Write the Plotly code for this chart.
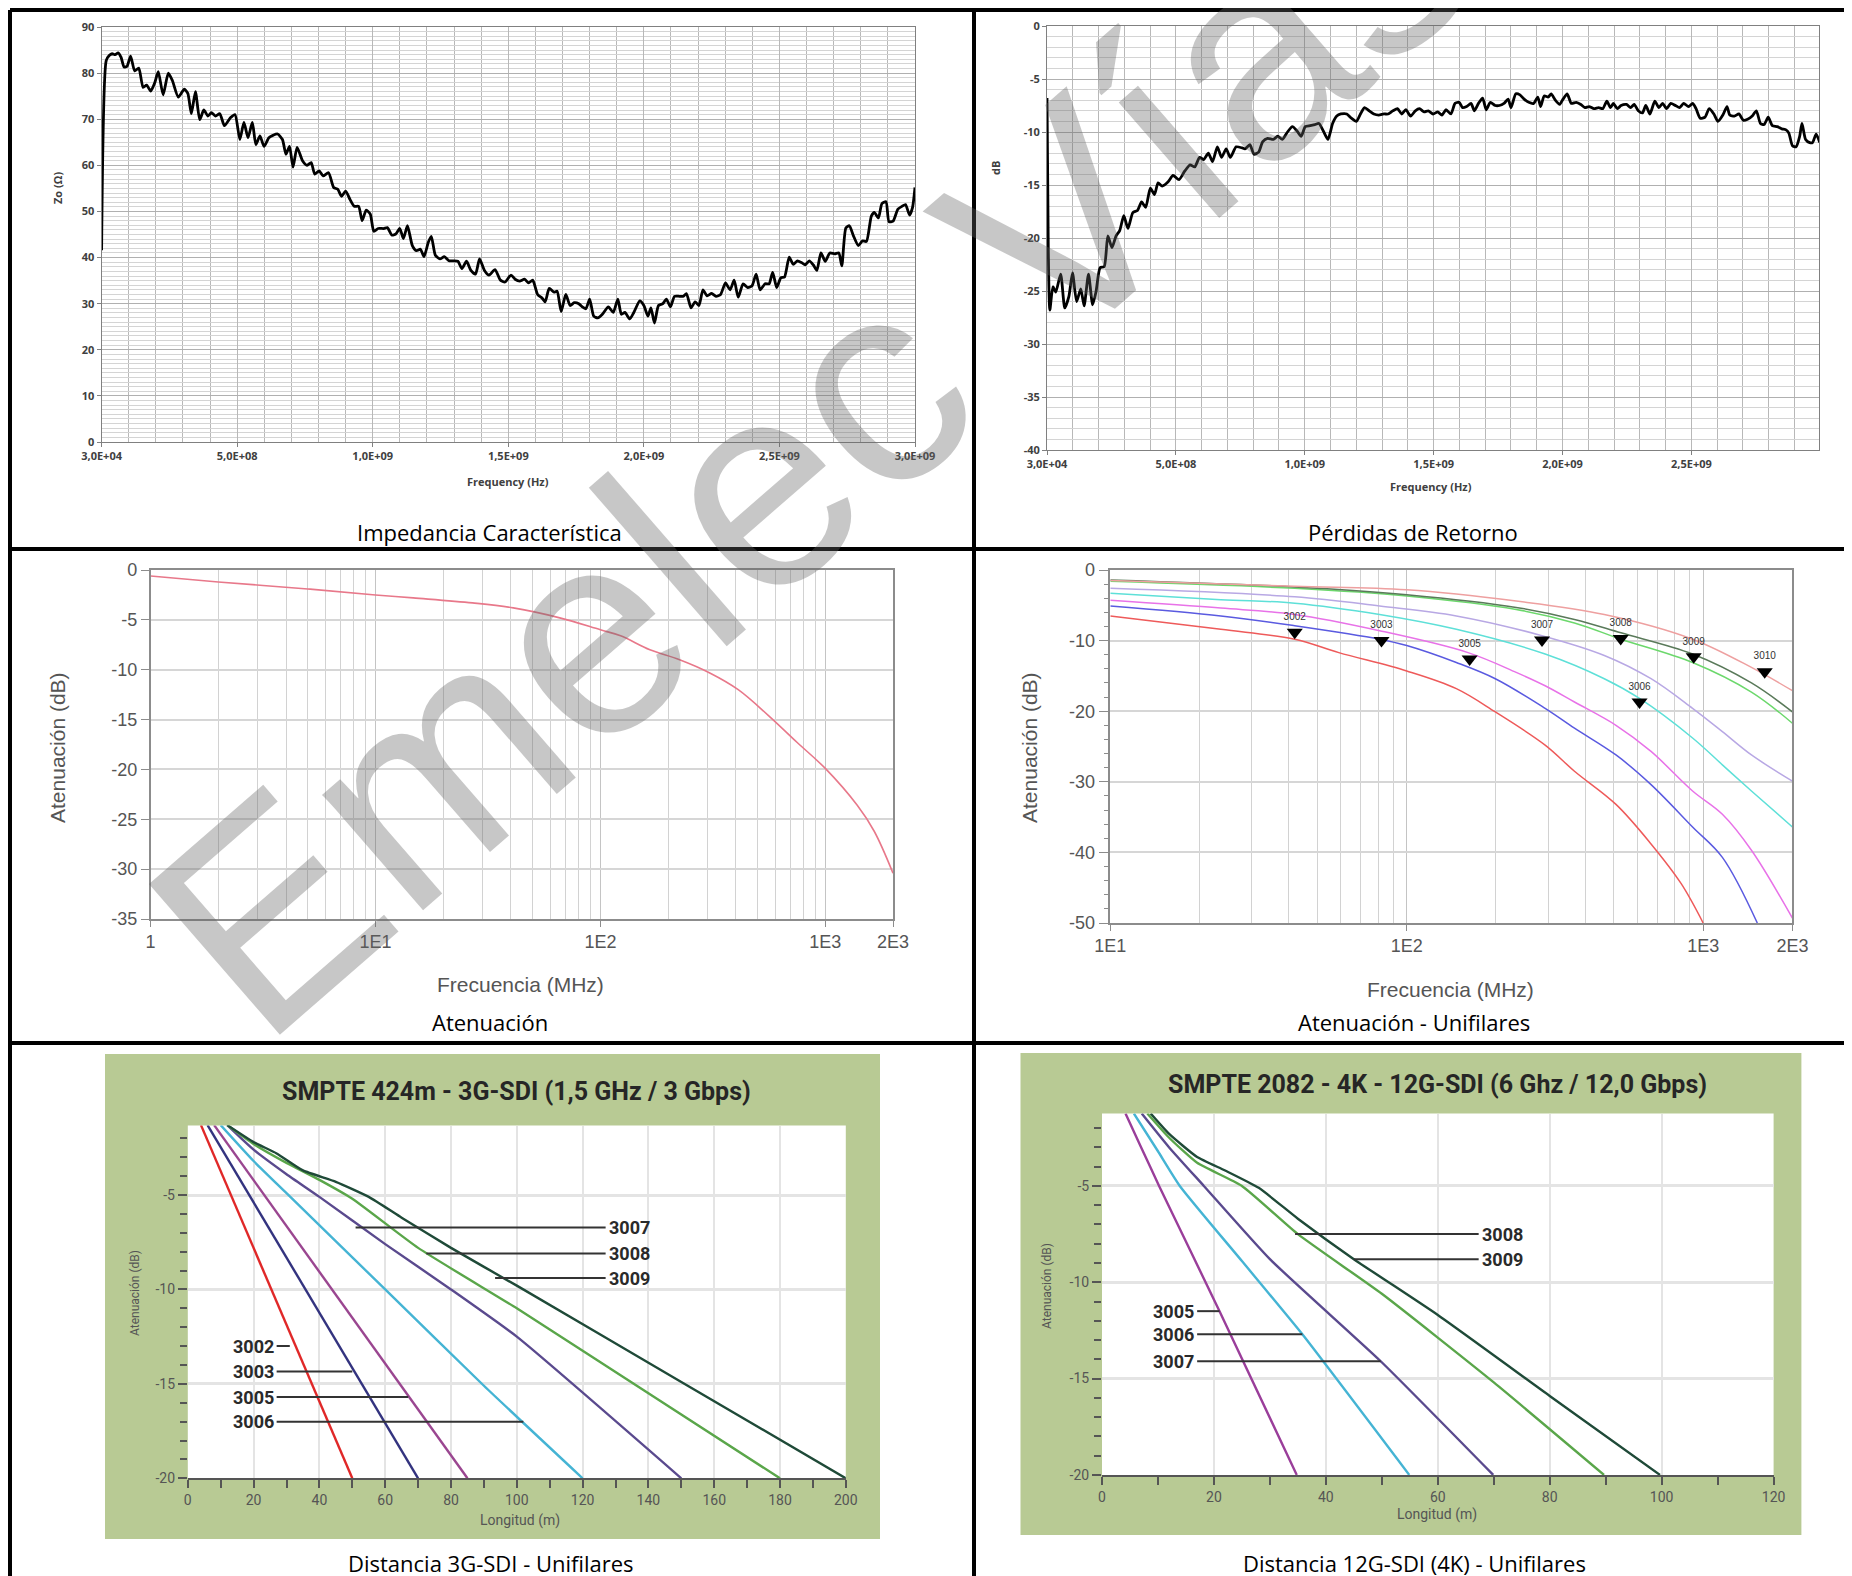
import plotly.graph_objects as go

W, H = 1852, 1576
OFF = 8  # page body margin of the viewer
def X(px): return (px - OFF) / W
def Y(py): return 1 - (py - OFF) / H

# ---------------- data ----------------
# Impedancia característica (frequency in MHz, Zo in ohm)
imp_freq_mhz = [0.03, 17, 28, 39, 50, 61, 72, 83, 94, 107, 122, 137, 153, 166, 181, 196, 209, 227, 246, 261,
                283, 305, 318, 331, 346, 362, 377, 392, 405, 420, 436, 453, 475, 492, 510, 525, 540, 556, 569, 584,
                599, 617, 632, 649, 667, 680, 693, 706, 721, 741, 758, 773, 786, 802, 817, 837, 856, 871, 885, 900,
                917, 932, 948, 961, 976, 991, 1004, 1020, 1041, 1054, 1070, 1085, 1100, 1113, 1128, 1146, 1161, 1176, 1189, 1205,
                1216, 1231, 1248, 1264, 1281, 1298, 1314, 1329, 1346, 1362, 1379, 1394, 1412, 1429, 1451, 1471, 1488, 1510, 1525, 1542,
                1560, 1575, 1590, 1608, 1625, 1636, 1651, 1669, 1680, 1695, 1712, 1728, 1743, 1760, 1771, 1786, 1800, 1815, 1830, 1847,
                1869, 1887, 1904, 1917, 1930, 1948, 1963, 1985, 2000, 2015, 2026, 2039, 2054, 2070, 2083, 2098, 2113, 2131, 2146, 2157,
                2174, 2189, 2203, 2218, 2233, 2250, 2266, 2283, 2301, 2318, 2333, 2348, 2366, 2383, 2399, 2414, 2429, 2447, 2462, 2475,
                2490, 2505, 2519, 2536, 2551, 2566, 2582, 2595, 2610, 2625, 2638, 2653, 2669, 2686, 2704, 2719, 2730, 2745, 2758, 2773,
                2791, 2806, 2821, 2839, 2850, 2865, 2878, 2893, 2904, 2919, 2937, 2952, 2965, 2980, 2991, 3000]
imp_zo = [41.6, 82.7, 83.8, 84.2, 84.0, 84.4, 83.4, 81.3, 81.5, 83.7, 80.5, 81.1, 76.9, 77.4, 76.1, 77.9, 80.3, 75.3, 80.0, 78.4,
          74.8, 76.5, 75.6, 71.2, 76.0, 69.9, 72.0, 70.7, 71.4, 70.7, 71.2, 68.6, 70.3, 71.0, 65.6, 69.3, 66.0, 69.3, 64.5, 66.4,
          64.1, 66.0, 66.5, 66.8, 65.6, 62.4, 64.1, 59.6, 63.9, 61.0, 60.0, 60.6, 58.1, 58.8, 57.7, 58.4, 55.2, 54.8, 53.3, 54.4,
          52.5, 51.1, 51.1, 48.0, 50.3, 49.4, 45.7, 46.3, 46.3, 46.5, 44.9, 45.1, 46.3, 44.1, 46.9, 42.6, 41.5, 41.8, 40.2, 43.3,
          44.6, 40.5, 39.7, 40.2, 39.3, 39.3, 39.2, 37.6, 39.2, 37.2, 36.4, 39.7, 37.2, 36.2, 37.4, 35.1, 34.7, 36.2, 35.3, 34.9,
          35.3, 34.5, 35.1, 32.0, 31.2, 30.4, 33.3, 32.5, 32.7, 28.3, 32.0, 29.6, 30.2, 30.0, 29.4, 28.9, 31.0, 27.3, 26.9, 27.7,
          29.3, 28.1, 31.0, 27.7, 28.1, 26.7, 28.1, 30.6, 29.6, 27.3, 29.1, 25.8, 29.6, 30.0, 31.0, 29.3, 31.6, 31.6, 31.6, 32.2,
          29.1, 30.4, 29.6, 33.0, 31.7, 32.2, 31.6, 32.0, 34.5, 33.0, 35.1, 31.4, 34.3, 33.5, 33.9, 36.4, 33.0, 34.3, 34.3, 36.8,
          33.5, 35.6, 35.8, 40.1, 38.5, 39.3, 38.9, 38.4, 39.3, 38.4, 37.2, 41.0, 39.2, 41.0, 40.8, 41.0, 38.2, 46.4, 46.9, 44.7,
          42.6, 43.6, 43.5, 49.0, 49.8, 48.6, 51.7, 52.1, 47.8, 47.9, 50.5, 51.1, 51.5, 49.2, 50.9, 55.2]

# Pérdidas de retorno (frequency in MHz, dB)
rl_freq_mhz = [0.03, 5, 11, 23, 34, 53, 69, 85, 99, 115, 131, 144, 161, 177, 190, 206, 222, 236, 252, 268,
               282, 298, 314, 333, 351, 367, 383, 401, 417, 431, 447, 470, 489, 512, 534, 555, 573, 592, 608, 626,
               642, 661, 677, 695, 711, 734, 757, 768, 787, 803, 821, 837, 856, 878, 895, 913, 933, 952, 970, 986,
               1002, 1021, 1039, 1055, 1072, 1090, 1108, 1124, 1140, 1163, 1181, 1200, 1216, 1232, 1250, 1268, 1287, 1307, 1323, 1342,
               1360, 1376, 1392, 1411, 1429, 1445, 1463, 1479, 1498, 1516, 1532, 1548, 1567, 1583, 1599, 1612, 1628, 1645, 1658, 1674,
               1690, 1704, 1720, 1739, 1755, 1773, 1789, 1800, 1819, 1835, 1851, 1869, 1888, 1904, 1915, 1929, 1945, 1956, 1972, 1989,
               2002, 2018, 2034, 2053, 2071, 2087, 2103, 2122, 2140, 2156, 2172, 2186, 2197, 2213, 2227, 2248, 2264, 2278, 2294, 2310,
               2323, 2339, 2358, 2374, 2388, 2404, 2420, 2438, 2454, 2470, 2489, 2505, 2518, 2534, 2553, 2569, 2587, 2603, 2622, 2638,
               2649, 2667, 2684, 2702, 2718, 2736, 2752, 2768, 2782, 2798, 2814, 2833, 2851, 2867, 2878, 2892, 2906, 2920, 2929, 2943,
               2959, 2970, 2984, 2998]
rl_db = [-6.8, -21.1, -26.8, -24.6, -25.1, -23.4, -26.6, -25.5, -23.3, -26.0, -24.8, -26.4, -23.4, -26.3, -25.1, -22.8, -22.7, -19.8, -20.9, -19.8,
         -19.3, -17.9, -19.1, -17.6, -17.4, -16.6, -17.1, -15.3, -15.9, -14.8, -15.1, -14.7, -14.1, -14.5, -13.7, -13.1, -13.3, -12.4, -12.6, -12.0,
         -12.8, -11.4, -12.4, -11.6, -12.4, -11.4, -11.5, -11.6, -11.2, -12.1, -11.9, -10.9, -10.6, -10.7, -10.4, -10.7, -10.0, -9.5, -9.9, -10.4,
         -9.5, -9.4, -9.3, -9.2, -9.9, -10.7, -9.2, -8.5, -8.3, -8.3, -8.7, -9.0, -8.3, -7.7, -8.0, -8.3, -8.4, -8.3, -8.3, -8.0,
         -7.8, -8.3, -7.9, -8.5, -8.0, -7.8, -8.1, -8.0, -8.3, -8.1, -8.4, -7.9, -8.3, -7.3, -7.2, -7.7, -7.6, -7.3, -8.0, -7.3,
         -6.8, -7.9, -7.2, -7.5, -7.5, -7.3, -6.9, -7.7, -6.4, -6.5, -6.9, -7.2, -7.3, -6.7, -7.6, -6.6, -6.7, -6.4, -7.0, -7.4,
         -6.9, -6.4, -7.3, -7.2, -7.4, -7.7, -7.6, -7.8, -7.7, -7.8, -7.1, -7.7, -7.3, -7.8, -7.5, -7.4, -7.7, -7.4, -8.0, -8.2,
         -7.5, -8.3, -7.1, -7.7, -7.3, -7.8, -7.3, -7.5, -7.7, -7.3, -7.6, -7.3, -7.8, -8.7, -8.6, -7.8, -8.3, -9.0, -8.4, -7.6,
         -8.4, -8.5, -8.3, -8.9, -8.8, -8.5, -8.0, -9.2, -9.3, -8.6, -9.4, -9.5, -9.7, -9.8, -10.1, -11.3, -11.4, -10.4, -9.2, -10.7,
         -11.0, -11.0, -10.2, -11.0]

# Atenuación (MHz, dB)
att_freq = [1, 2, 5, 10, 14.7, 27, 41, 66, 100, 123, 166, 225, 305, 410, 559, 750, 1000, 1387, 1650, 2000]
att_db = [-0.6, -1.2, -1.9, -2.5, -2.8, -3.3, -3.8, -4.8, -6.0, -6.6, -8.0, -9.0, -10.3, -12.0, -14.6, -17.3, -19.9, -23.6, -26.2, -30.4]

# Atenuación - Unifilares (MHz, dB)
u3002_f = [10, 23.6, 41.9, 59, 100, 147, 199, 293, 368, 508, 667, 842, 1000]
u3002_db = [-6.5, -8.4, -9.8, -11.7, -14.3, -16.8, -20.1, -24.8, -28.5, -33.2, -38.8, -44.4, -50]
u3003_f = [10, 23.6, 41.9, 81, 100, 147, 199, 293, 368, 508, 667, 921, 1161, 1523]
u3003_db = [-5.1, -6.5, -7.9, -9.8, -10.7, -13.1, -15.4, -19.6, -22.4, -26.2, -30.4, -36.4, -40.7, -50]
u3005_f = [10, 23.6, 41.9, 81, 161, 234, 293, 368, 508, 667, 921, 1161, 1455, 2000]
u3005_db = [-4.3, -5.4, -6.3, -8.6, -11.7, -14.5, -16.4, -18.7, -22.0, -25.7, -31.3, -34.6, -39.7, -49.3]
u3006_f = [10, 23.6, 41.9, 81, 147, 293, 464, 610, 921, 1161, 1455, 2000]
u3006_db = [-3.3, -4.2, -4.7, -6.3, -8.4, -11.9, -15.4, -18.2, -23.8, -27.6, -31.3, -36.4]
u3007_f = [10, 41.9, 81, 147, 286, 464, 667, 921, 1161, 1455, 2000]
u3007_db = [-2.6, -3.8, -5.1, -6.5, -9.3, -12.1, -15.4, -19.6, -22.9, -26.2, -29.9]
u3008_f = [10, 41.9, 100, 234, 368, 528, 921, 1455, 2000]
u3008_db = [-1.6, -2.6, -3.7, -5.6, -7.5, -9.8, -13.1, -17.3, -21.7]
u3009_f = [10, 41.9, 100, 234, 368, 528, 921, 1455, 2000]
u3009_db = [-1.4, -2.4, -3.5, -5.3, -7.0, -8.9, -11.9, -16.0, -20.1]
u3010_f = [10, 41.9, 100, 234, 464, 921, 1455, 2000]
u3010_db = [-1.5, -2.3, -2.8, -4.4, -6.3, -9.8, -13.8, -17.1]

uni_marker_names = ['3002', '3003', '3005', '3007', '3008', '3009', '3010', '3006']
uni_marker_f = [41.9, 82.2, 163, 286, 527, 929, 1613, 610]
uni_marker_db = [-8.8, -10.0, -12.6, -9.9, -9.7, -12.3, -14.4, -18.7]

# 3G-SDI (m, dB)
g3_3002_m = [4, 50]
g3_3002_db = [-1.3, -20]
g3_3003_m = [6, 70]
g3_3003_db = [-1.3, -20]
g3_3005_m = [8, 85]
g3_3005_db = [-1.3, -20]
g3_3006_m = [10, 20, 30, 60, 90, 120]
g3_3006_db = [-1.3, -3.2, -4.9, -10.0, -15.1, -20]
g3_3007_m = [12, 20, 30, 40, 60, 80, 100, 150]
g3_3007_db = [-1.3, -2.6, -3.9, -5.1, -7.6, -10.0, -12.5, -20]
g3_3008_m = [12, 20, 30, 40, 50, 70, 100, 140, 180]
g3_3008_db = [-1.3, -2.3, -3.3, -4.2, -5.2, -7.8, -11.0, -15.5, -20]
g3_3009_m = [12, 20, 27, 35, 45, 55, 65, 80, 100, 150, 200]
g3_3009_db = [-1.3, -2.2, -2.8, -3.7, -4.3, -5.1, -6.2, -7.8, -9.8, -14.9, -20]

# 12G-SDI (m, dB)
g12_3005_m = [4.2, 7, 10.2, 21, 34.8]
g12_3005_db = [-1.24, -3.0, -5.0, -11.5, -20]
g12_3006_m = [5.7, 10, 13.9, 25, 35.8, 54.9]
g12_3006_db = [-1.24, -3.2, -5.0, -8.9, -12.7, -20]
g12_3007_m = [7.1, 12, 18.2, 30, 49.8, 69.9]
g12_3007_db = [-1.24, -3.0, -5.0, -8.8, -14.1, -20]
g12_3008_m = [8.1, 12, 17, 25, 35, 50, 70, 89.7]
g12_3008_db = [-1.24, -2.5, -3.8, -5.0, -7.5, -10.6, -15.2, -20]
g12_3009_m = [8.7, 12, 17, 22, 28, 35, 45, 60, 80, 99.7]
g12_3009_db = [-1.24, -2.3, -3.5, -4.2, -5.1, -6.7, -8.8, -11.7, -15.9, -20]

# labels with leader lines: name, y(dB), leader start x, leader end x
g3_labels_right = [('3007', -6.72, 51, 127), ('3008', -8.1, 72.5, 127), ('3009', -9.4, 93.4, 127)]
g3_labels_left = [('3002', -13.0, 31, 27), ('3003', -14.35, 50, 27), ('3005', -15.7, 67, 27), ('3006', -17.0, 102, 27)]
g12_labels_right = [('3008', -7.5, 34.5, 67.3), ('3009', -8.8, 45, 67.3)]
g12_labels_left = [('3005', -11.5, 21, 17), ('3006', -12.7, 35.8, 17), ('3007', -14.1, 49.8, 17)]

captions = ['Impedancia Característica', 'Pérdidas de Retorno', 'Atenuación',
            'Atenuación - Unifilares', 'Distancia 3G-SDI - Unifilares', 'Distancia 12G-SDI (4K) - Unifilares']

fig = go.Figure()

# ---------- row 1 traces ----------
fig.add_trace(go.Scatter(x=[f * 1e6 for f in imp_freq_mhz], y=imp_zo, mode='lines',
                         line=dict(color='black', width=2.8, shape='spline', smoothing=0.6),
                         xaxis='x', yaxis='y', showlegend=False))
fig.add_trace(go.Scatter(x=[f * 1e6 for f in rl_freq_mhz], y=rl_db, mode='lines',
                         line=dict(color='black', width=2.8, shape='spline', smoothing=0.6),
                         xaxis='x2', yaxis='y2', showlegend=False))
# ---------- row 2 ----------
fig.add_trace(go.Scatter(x=att_freq, y=att_db, mode='lines',
                         line=dict(color='#e8788a', width=1.6, shape='spline'),
                         xaxis='x3', yaxis='y3', showlegend=False))
uni = [(u3002_f, u3002_db, '#ee5a5a'), (u3003_f, u3003_db, '#5a5ae0'), (u3005_f, u3005_db, '#e872e8'),
       (u3006_f, u3006_db, '#5ee0d8'), (u3007_f, u3007_db, '#b8a8e4'), (u3008_f, u3008_db, '#6cd86c'),
       (u3009_f, u3009_db, '#5a7a5a'), (u3010_f, u3010_db, '#eea0a0')]
for fx, fy, c in uni:
    fig.add_trace(go.Scatter(x=fx, y=fy, mode='lines', line=dict(color=c, width=1.5, shape='spline'),
                             xaxis='x4', yaxis='y4', showlegend=False))
fig.add_trace(go.Scatter(x=uni_marker_f, y=uni_marker_db, mode='markers+text', text=uni_marker_names,
                         textposition='top center', textfont=dict(family='Liberation Sans', size=10, color='#333'),
                         marker=dict(symbol='triangle-down', size=14, color='black'),
                         xaxis='x4', yaxis='y4', showlegend=False))
# ---------- row 3 ----------
g3 = [(g3_3002_m, g3_3002_db, '#e02828'), (g3_3003_m, g3_3003_db, '#33337f'), (g3_3005_m, g3_3005_db, '#9a4690'),
      (g3_3006_m, g3_3006_db, '#45b4d4'), (g3_3007_m, g3_3007_db, '#5a4a8e'), (g3_3008_m, g3_3008_db, '#5aa64a'),
      (g3_3009_m, g3_3009_db, '#1f4a38')]
for fx, fy, c in g3:
    fig.add_trace(go.Scatter(x=fx, y=fy, mode='lines', line=dict(color=c, width=2.4, shape='spline', smoothing=0.5),
                             xaxis='x5', yaxis='y5', showlegend=False))
g12 = [(g12_3005_m, g12_3005_db, '#9a3e9a'), (g12_3006_m, g12_3006_db, '#45b4d4'), (g12_3007_m, g12_3007_db, '#5a4a8e'),
       (g12_3008_m, g12_3008_db, '#5aa64a'), (g12_3009_m, g12_3009_db, '#1f4a38')]
for fx, fy, c in g12:
    fig.add_trace(go.Scatter(x=fx, y=fy, mode='lines', line=dict(color=c, width=2.4, shape='spline', smoothing=0.5),
                             xaxis='x6', yaxis='y6', showlegend=False))

# ---------- axes ----------
excel_font = dict(family='Open Sans', size=11, color='#404040', weight='bold')
def excel_x(l, r, rng, tv, tt, anchor):
    return dict(domain=[X(l), X(r)], range=rng, tickmode='array', tickvals=tv, ticktext=tt,
                showgrid=True, gridcolor='#b8b8b8', gridwidth=1,
                minor=dict(dtick=1e8, tick0=0, showgrid=True, gridcolor='#b8b8b8', gridwidth=1),
                showline=True, linecolor='#808080', linewidth=1, mirror=True, ticks='outside', ticklen=4,
                tickcolor='#808080', tickfont=excel_font, zeroline=False, anchor=anchor, automargin=False)
def excel_y(t, b, rng, tv, tt, anchor):
    return dict(domain=[Y(b), Y(t)], range=rng, tickmode='array', tickvals=tv, ticktext=tt,
                showgrid=True, gridcolor='#b0b0b0', gridwidth=1,
                minor=dict(dtick=1, tick0=0, showgrid=True, gridcolor='#d4d4d4', gridwidth=1),
                showline=True, linecolor='#808080', linewidth=1, mirror=True, ticks='outside', ticklen=4,
                tickcolor='#808080', tickfont=excel_font, zeroline=False, anchor=anchor, automargin=False)

imp_tv = [3e4, 5e8, 1e9, 1.5e9, 2e9, 2.5e9, 3e9]
imp_tt = ['3,0E+04', '5,0E+08', '1,0E+09', '1,5E+09', '2,0E+09', '2,5E+09', '3,0E+09']
rl_tv = imp_tv[:-1]
rl_tt = imp_tt[:-1]
att_yticks = list(range(-35, 1, 5))
uni_yticks = list(range(-50, 1, 10))
sdi_yticks = [-20, -15, -10, -5]

gray_font = dict(family='Liberation Sans', size=18, color='#555555')
def decades(lo, hi):
    v = []
    d = lo
    while d < hi:
        for k in range(1, 10):
            if d * k <= hi:
                v.append(d * k)
        d *= 10
    return v

fig.update_layout(
    xaxis=excel_x(101.6, 915, [0, 3e9], imp_tv, imp_tt, 'y'),
    yaxis=excel_y(27, 442, [0, 90], list(range(0, 91, 10)), [str(v) for v in range(0, 91, 10)], 'x'),
    xaxis2=excel_x(1047, 1819, [0, 2.995e9], rl_tv, rl_tt, 'y2'),
    yaxis2=excel_y(26, 450, [-40, 0], list(range(-40, 1, 5)), [str(v) for v in range(-40, 1, 5)], 'x2'),
    xaxis3=dict(domain=[X(150.6), X(893)], type='log', range=[0, 3.30103], tickmode='array',
                tickvals=[1, 10, 100, 1000, 2000], ticktext=['1', '1E1', '1E2', '1E3', '2E3'],
                showgrid=True, gridcolor='#c4c4c4', gridwidth=1,
                minor=dict(tickmode='array', tickvals=decades(1, 2000), showgrid=True, gridcolor='#d2d2d2', gridwidth=1),
                showline=True, linecolor='#8c8c8c', linewidth=1.5, mirror=True, ticks='outside', ticklen=6,
                tickcolor='#8c8c8c', tickfont=gray_font, zeroline=False, anchor='y3', automargin=False),
    yaxis3=dict(domain=[Y(919), Y(570)], range=[-35, 0], tickmode='array', tickvals=att_yticks,
                ticktext=[str(v) for v in att_yticks],
                showgrid=True, gridcolor='#d6d6d6', gridwidth=2, showline=True, linecolor='#8c8c8c', linewidth=1.5,
                mirror=True, ticks='outside', ticklen=8, tickcolor='#8c8c8c', tickfont=gray_font,
                zeroline=False, anchor='x3', automargin=False),
    xaxis4=dict(domain=[X(1110.3), X(1792.4)], type='log', range=[1, 3.30103], tickmode='array',
                tickvals=[10, 100, 1000, 2000], ticktext=['1E1', '1E2', '1E3', '2E3'],
                showgrid=True, gridcolor='#c4c4c4', gridwidth=1,
                minor=dict(tickmode='array', tickvals=decades(10, 2000), showgrid=True, gridcolor='#d2d2d2', gridwidth=1),
                showline=True, linecolor='#8c8c8c', linewidth=1.5, mirror=True, ticks='outside', ticklen=6,
                tickcolor='#8c8c8c', tickfont=gray_font, zeroline=False, anchor='y4', automargin=False),
    yaxis4=dict(domain=[Y(923), Y(570)], range=[-50, 0], tickmode='array', tickvals=uni_yticks,
                ticktext=[str(v) for v in uni_yticks],
                showgrid=True, gridcolor='#d6d6d6', gridwidth=2, showline=True, linecolor='#8c8c8c', linewidth=1.5,
                mirror=True, ticks='outside', ticklen=10, tickcolor='#8c8c8c', tickfont=gray_font,
                minor=dict(dtick=2, ticks='outside', ticklen=5, tickcolor='#8c8c8c', showgrid=False),
                zeroline=False, anchor='x4', automargin=False),
    xaxis5=dict(domain=[X(187.8), X(845.8)], range=[0, 200], dtick=20, showgrid=True, gridcolor='#e4e4e4',
                gridwidth=1.5, showline=True, linecolor='#555555', linewidth=2, ticks='outside', ticklen=8,
                tickwidth=2, tickcolor='#555555', minor=dict(dtick=10, ticks='outside', ticklen=8, tickwidth=2,
                tickcolor='#555555', showgrid=False),
                tickfont=dict(family='Roboto', size=14, color='#555555'), zeroline=False, anchor='y5', automargin=False),
    yaxis5=dict(domain=[Y(1478.3), Y(1125.5)], range=[-20, -1.32], tickmode='array', tickvals=sdi_yticks,
                ticktext=[str(v) for v in sdi_yticks],
                showgrid=True, gridcolor='#e4e4e4', gridwidth=3, showline=False, ticks='outside', ticklen=9,
                tickwidth=2, tickcolor='#555555', minor=dict(dtick=1, tick0=0, ticks='outside', ticklen=7, tickwidth=2,
                tickcolor='#555555', showgrid=False),
                tickfont=dict(family='Roboto', size=14, color='#555555'), zeroline=False, anchor='x5', automargin=False),
    xaxis6=dict(domain=[X(1102), X(1773.6)], range=[0, 120], dtick=20, showgrid=True, gridcolor='#e4e4e4',
                gridwidth=1.5, showline=True, linecolor='#555555', linewidth=2, ticks='outside', ticklen=8,
                tickwidth=2, tickcolor='#555555', minor=dict(dtick=10, ticks='outside', ticklen=8, tickwidth=2,
                tickcolor='#555555', showgrid=False),
                tickfont=dict(family='Roboto', size=14, color='#555555'), zeroline=False, anchor='y6', automargin=False),
    yaxis6=dict(domain=[Y(1474.9), Y(1113.5)], range=[-20, -1.24], tickmode='array', tickvals=sdi_yticks,
                ticktext=[str(v) for v in sdi_yticks],
                showgrid=True, gridcolor='#e4e4e4', gridwidth=3, showline=False, ticks='outside', ticklen=9,
                tickwidth=2, tickcolor='#555555', minor=dict(dtick=1, tick0=0, ticks='outside', ticklen=7, tickwidth=2,
                tickcolor='#555555', showgrid=False),
                tickfont=dict(family='Roboto', size=14, color='#555555'), zeroline=False, anchor='x6', automargin=False),
)

shapes = []
anns = []
green = '#b8ca94'
# green panels and white plot areas
shapes.append(dict(type='rect', xref='paper', yref='paper', x0=X(105), x1=X(880), y0=Y(1539), y1=Y(1054),
                   fillcolor=green, line=dict(width=0), layer='below'))
shapes.append(dict(type='rect', xref='paper', yref='paper', x0=X(187.8), x1=X(845.8), y0=Y(1478.3), y1=Y(1125.5),
                   fillcolor='white', line=dict(width=0), layer='below'))
shapes.append(dict(type='rect', xref='paper', yref='paper', x0=X(1020.5), x1=X(1801.4), y0=Y(1535), y1=Y(1053),
                   fillcolor=green, line=dict(width=0), layer='below'))
shapes.append(dict(type='rect', xref='paper', yref='paper', x0=X(1102), x1=X(1773.6), y0=Y(1474.9), y1=Y(1113.5),
                   fillcolor='white', line=dict(width=0), layer='below'))

# leader lines + labels
lab_font = dict(family='Roboto', size=18, color='#2a2a2a', weight='bold')
for name, yv, xs, xe in g3_labels_right:
    shapes.append(dict(type='line', xref='x5', yref='y5', x0=xs, x1=xe, y0=yv, y1=yv, line=dict(color='#333', width=2)))
    anns.append(dict(xref='x5', yref='y5', x=xe + 0.5, y=yv, text=name, showarrow=False, xanchor='left',
                     yanchor='middle', font=lab_font))
for name, yv, xs, xe in g3_labels_left:
    shapes.append(dict(type='line', xref='x5', yref='y5', x0=xe, x1=xs, y0=yv, y1=yv, line=dict(color='#333', width=2)))
    anns.append(dict(xref='x5', yref='y5', x=xe - 0.3, y=yv, text=name, showarrow=False, xanchor='right',
                     yanchor='middle', font=lab_font))
for name, yv, xs, xe in g12_labels_right:
    shapes.append(dict(type='line', xref='x6', yref='y6', x0=xs, x1=xe, y0=yv, y1=yv, line=dict(color='#333', width=2)))
    anns.append(dict(xref='x6', yref='y6', x=xe + 0.3, y=yv, text=name, showarrow=False, xanchor='left',
                     yanchor='middle', font=lab_font))
for name, yv, xs, xe in g12_labels_left:
    shapes.append(dict(type='line', xref='x6', yref='y6', x0=xe, x1=xs, y0=yv, y1=yv, line=dict(color='#333', width=2)))
    anns.append(dict(xref='x6', yref='y6', x=xe - 0.2, y=yv, text=name, showarrow=False, xanchor='right',
                     yanchor='middle', font=lab_font))

# panel borders (left/top outer lines sit just inside the visible page area)
bw = 4
for x0, y0, x1, y1 in [(10, 10, 1848, 10), (10, 10, 10, 1590), (1848, 10, 1848, 1590), (974, 10, 974, 1590),
                       (10, 549, 1848, 549), (10, 1043, 1848, 1043)]:
    shapes.append(dict(type='line', xref='paper', yref='paper', x0=X(x0), x1=X(x1), y0=Y(y0), y1=Y(y1),
                       line=dict(color='black', width=bw)))

def txt(x, y, s, size, color='black', family='Open Sans', angle=0, weight='normal'):
    anns.append(dict(xref='paper', yref='paper', x=X(x), y=Y(y), text=s, showarrow=False, xanchor='center',
                     yanchor='middle', textangle=angle, font=dict(family=family, size=size, color=color, weight=weight)))

# axis titles
txt(58, 188, 'Zo (Ω)', 11, '#404040', angle=-90, weight='bold')
txt(508, 481, 'Frequency (Hz)', 11, '#404040', weight='bold')
txt(996, 168, 'dB', 11, '#404040', angle=-90, weight='bold')
txt(1431, 486, 'Frequency (Hz)', 11, '#404040', weight='bold')
txt(57, 748, 'Atenuación (dB)', 21, '#555555', family='Liberation Sans', angle=-90)
txt(520, 984, 'Frecuencia (MHz)', 21, '#555555', family='Liberation Sans')
txt(1029, 748, 'Atenuación (dB)', 21, '#555555', family='Liberation Sans', angle=-90)
txt(1450, 989, 'Frecuencia (MHz)', 21, '#555555', family='Liberation Sans')
txt(135, 1293, 'Atenuación (dB)', 12, '#555555', family='Roboto', angle=-90)
txt(520, 1520, 'Longitud (m)', 14, '#555555', family='Roboto')
txt(1047, 1286, 'Atenuación (dB)', 12, '#555555', family='Roboto', angle=-90)
txt(1437, 1514, 'Longitud (m)', 14, '#555555', family='Roboto')
# green panel titles
txt(517, 1091, 'SMPTE 424m - 3G-SDI (1,5 GHz / 3 Gbps)', 25, '#262626', family='Roboto', weight='bold')
txt(1437, 1084, 'SMPTE 2082 - 4K - 12G-SDI (6 Ghz / 12,0 Gbps)', 25, '#262626', family='Roboto', weight='bold')
# captions
cap_pos = [(490, 532), (1413, 532), (490, 1022), (1414, 1022), (491, 1563), (1414, 1563)]
for (cx, cy), c in zip(cap_pos, captions):
    txt(cx, cy, c, 22)

# watermark
anns.append(dict(xref='paper', yref='paper', x=X(810), y=Y(440), text='Emelec Vías', showarrow=False,
                 xanchor='center', yanchor='middle', textangle=-41,
                 font=dict(family='Liberation Sans', size=290, color='rgba(100,100,100,0.36)')))

fig.update_layout(width=W, height=H, margin=dict(l=0, r=0, t=0, b=0, autoexpand=False), paper_bgcolor='white',
                  plot_bgcolor='white', shapes=shapes, annotations=anns, showlegend=False)
fig.write_html('out.html')
